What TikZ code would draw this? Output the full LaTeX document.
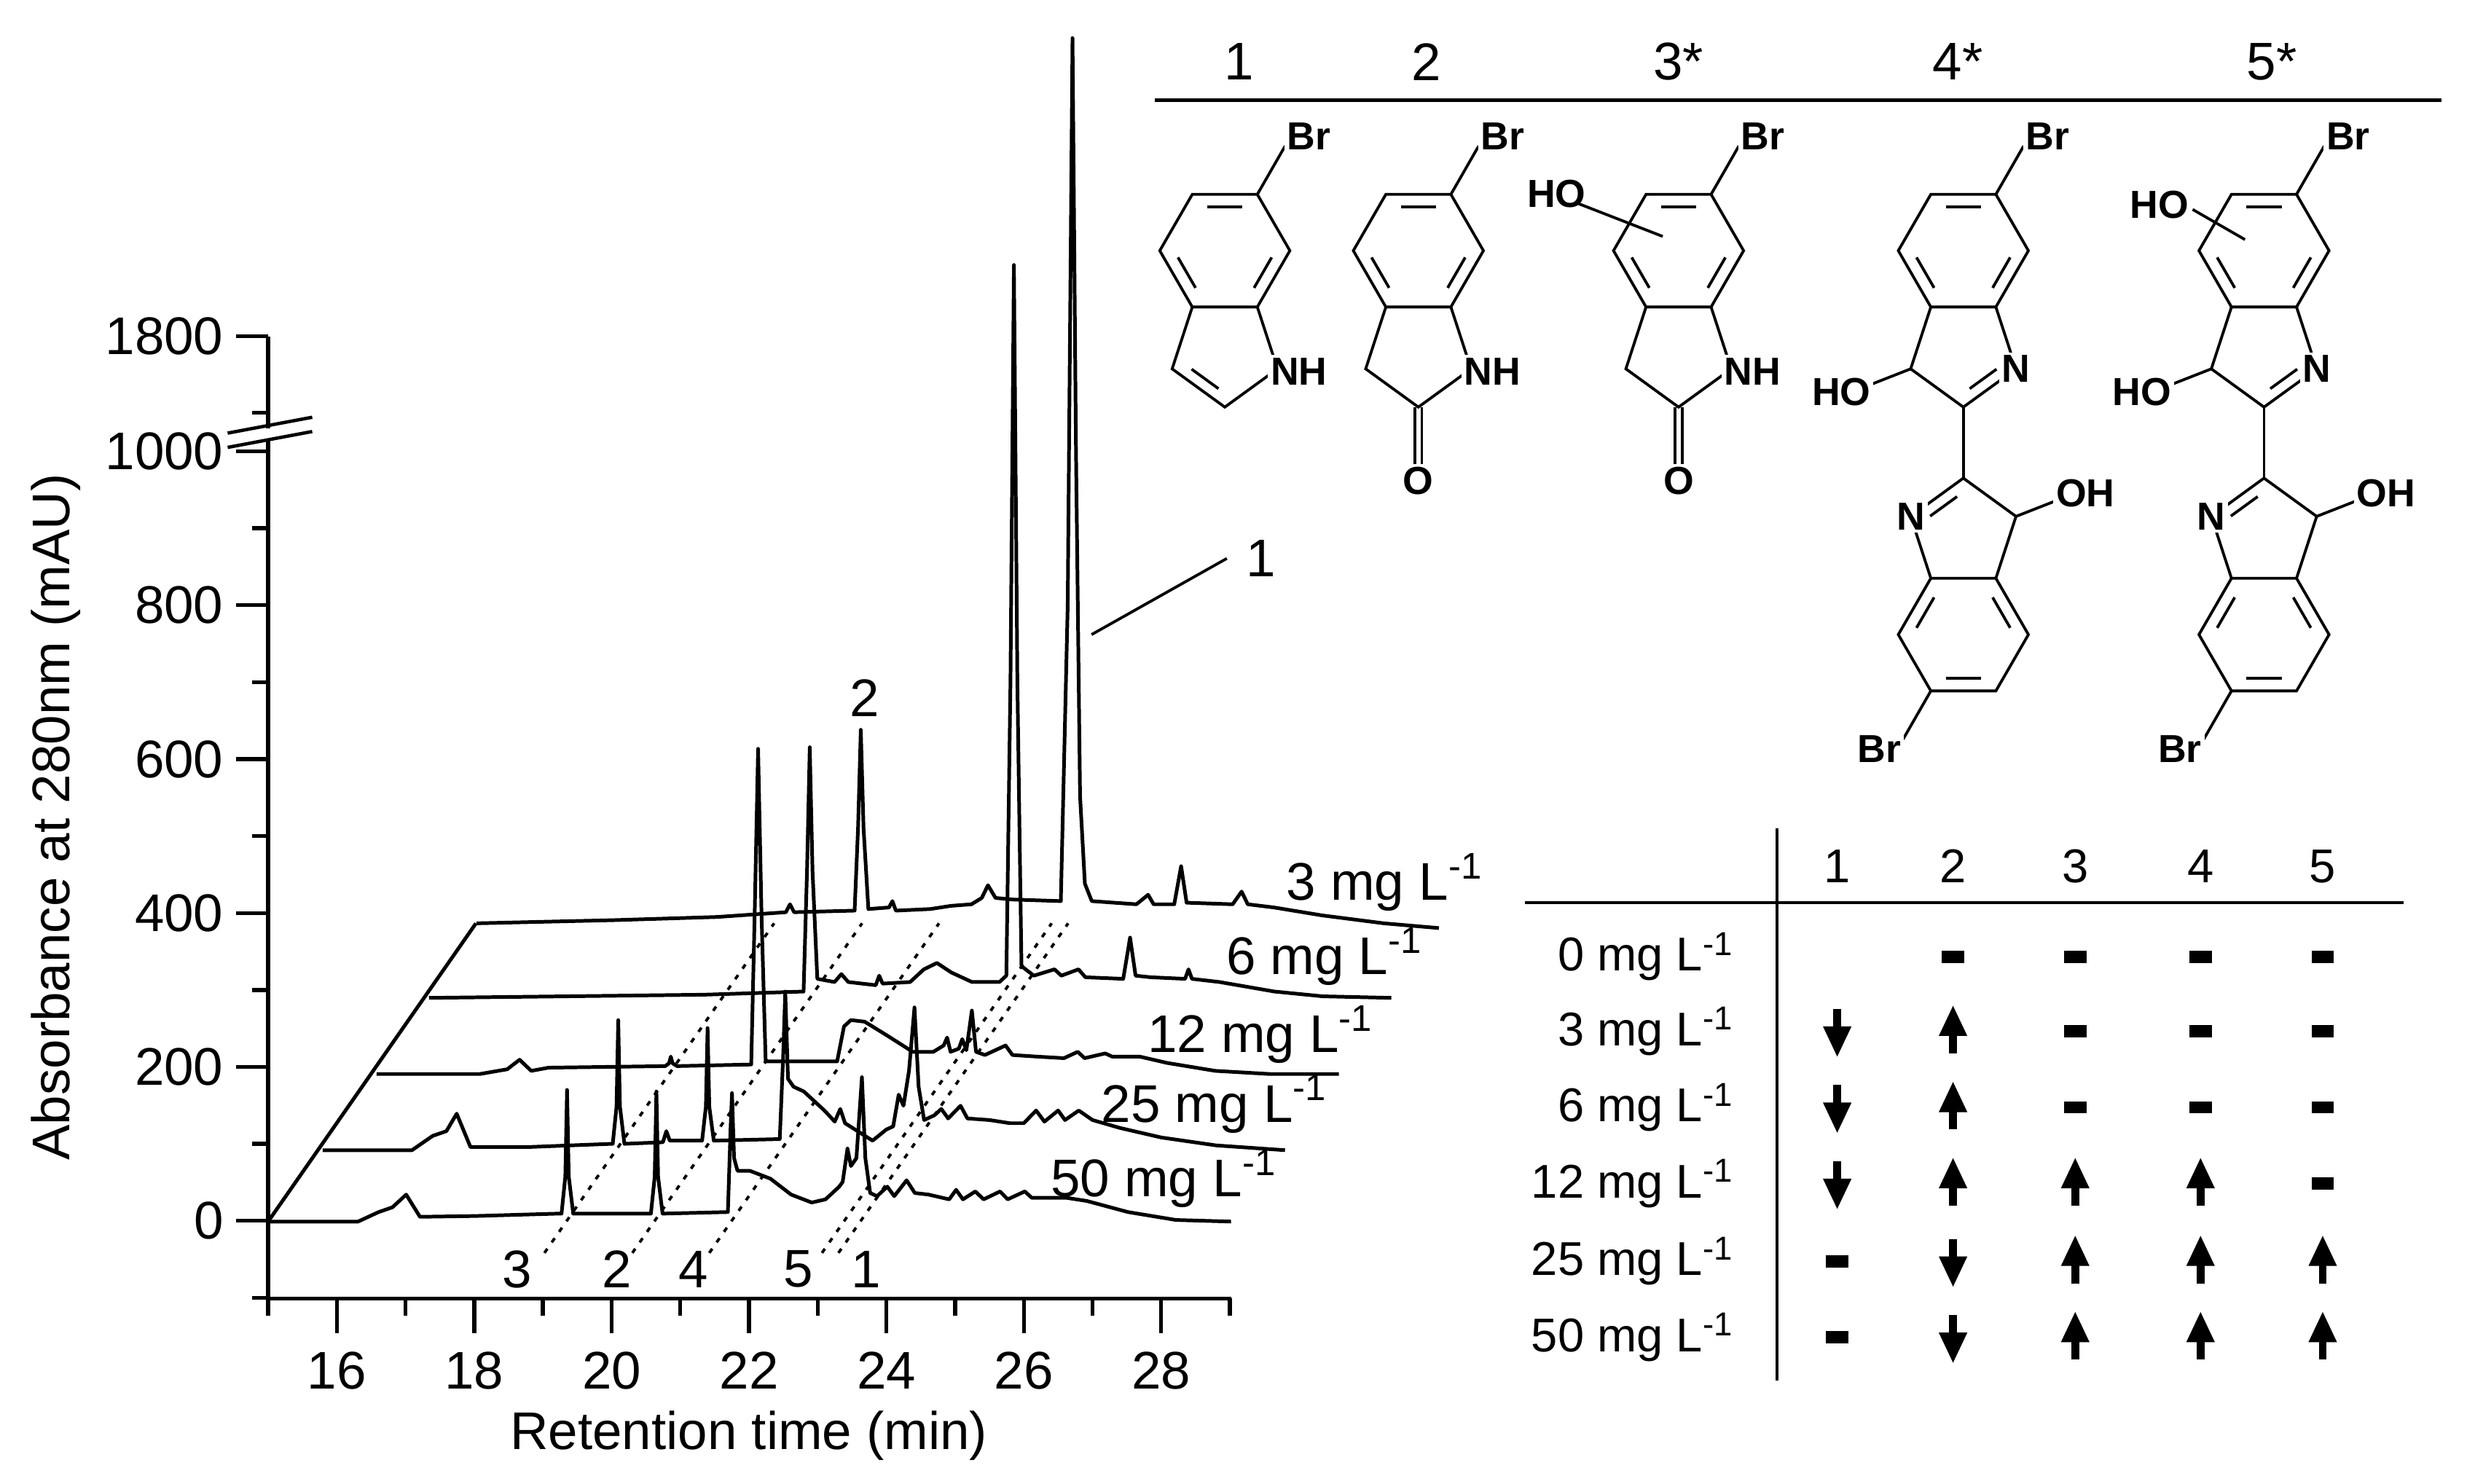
\documentclass[tikz,border=0pt]{standalone}
\usepackage{fontspec}
\setmainfont{Liberation Sans}
\usetikzlibrary{calc}
\newcommand\molcore{%
 \coordinate (O) at (0,0);
 \coordinate (A) at (20.5,-35.5); \coordinate (B) at (-20.5,-35.5); \coordinate (C) at (-41,0);
 \coordinate (D) at (-20.5,35.5); \coordinate (E) at (20.5,35.5); \coordinate (F) at (41,0);
 \coordinate (P1) at (33.2,74.5); \coordinate (P2) at (0,98.6); \coordinate (P3) at (-33.2,74.5); \coordinate (Q) at (0,63.7);
 \draw[bond] (A)--(B)--(C)--(D)--(E)--(F)--cycle;
 \draw[bond] (E)--(P1)--(P2)--(P3)--(D);
 \foreach \u/\v in {A/B,C/D,E/F} \draw[bond,shorten <=1.4pt,shorten >=1.4pt] ($(O)!.78!(\u)$)--($(O)!.78!(\v)$);
 \draw[bond] (A)--(38,-66);
}
\newcommand\pk[3]{--({#1-0.08},#2)--({#1-0.025},{#2+0.3*#3})--(#1,{#2+#3})--({#1+0.025},{#2+0.3*#3})--({#1+0.09},#2)}
\newcommand\uparr[2]{\draw[line width=1.4pt] (#1,#2+14)--(#1,#2-2); \fill (#1-9,#2+3)--(#1+9,#2+3)--(#1,#2-16)--cycle;}
\newcommand\dnarr[2]{\draw[line width=1.4pt] (#1,#2-14)--(#1,#2+2); \fill (#1-9,#2-3)--(#1+9,#2-3)--(#1,#2+16)--cycle;}
\newcommand\dsh[2]{\draw[line width=2.2pt] (#1-7,#2)--(#1+7,#2);}
\begin{document}
\begin{tikzpicture}[x=0.01cm,y=-0.01cm,
 trace/.style={line width=0.65pt,line join=round},
 axis/.style={line width=0.7pt},
 bond/.style={line width=0.5pt},
 lab/.style={font=\fontsize{9.5}{11}\selectfont},
 tlab/.style={font=\fontsize{8.5}{10}\selectfont},
 atom/.style={fill=white,inner sep=0.5pt,font=\fontsize{7}{8}\selectfont\bfseries},
 dots/.style={line width=0.5pt,dash pattern=on 0.9pt off 1.4pt},
 tr/.style={shift={(#1)},x=0.433cm,y=0.01cm}]
\useasboundingbox (0,0) rectangle (1560,935);
% ---- axes
\draw[axis] (169,820)--(169,278);
\draw[axis] (169,270)--(169,212);
\draw[line width=0.6pt] (143.5,273)--(196.8,263) (143.5,282)--(196.8,272);
\foreach \v/\t in {0/0,200/200,400/400,600/600,800/800,1000/1000}
  \draw[axis] (169,{769.5-0.485*\v})--(149,{769.5-0.485*\v}) node[lab,anchor=east,inner sep=2pt] {\t};
\foreach \v in {-100,100,300,500,700,900}
  \draw[axis] (169,{769.5-0.485*\v})--(159,{769.5-0.485*\v});
\draw[axis] (169,212)--(149,212) node[lab,anchor=east,inner sep=2pt] {1800};
\draw[axis] (169,260)--(159,260);
\draw[axis] (169,818.5)--(776,818.5);
\foreach \t in {15,17,...,29} \draw[axis] ({169+43.3*(\t-15)},818.5)--++(0,11);
\foreach \t in {16,18,...,28} \draw[axis] ({169+43.3*(\t-15)},818.5)--++(0,22) node[lab,anchor=north,inner sep=3pt] {\t};
\node[lab] (xt) at (472,905) {Retention time (min)};
\node[lab,rotate=90] (yt) at (35,515) {Absorbance at 280nm (mAU)};
% ---- traces
\draw[trace] (169,770)--(300,582);
\begin{scope}[tr={-349.5,582}]
\draw[trace] (15,0)--(17,2)--(18.5,4)--(19.5,7)--(19.56,12)--(19.62,7)--(20.5,8)--(20.55,60)--(20.59,122)--(20.63,60)--(20.7,9)--(21.0,10)--(21.05,14)--(21.1,8)--(21.6,9)--(21.9,11)--(22.2,12)--(22.35,16)--(22.44,24)--(22.55,16)--(22.8,15)--(23.5,14)--(23.6,200)--(23.67,558)--(23.72,300)--(23.78,80)--(23.85,25)--(23.95,14)--(24.6,12)--(24.77,18)--(24.85,12)--(25.15,12)--(25.25,36)--(25.33,13)--(26.0,12)--(26.13,20)--(26.22,12)--(26.6,10)--(27.3,5)--(28.2,0)--(29,-3);
\end{scope}
\begin{scope}[tr={-379.5,629}]
\draw[trace] (15,0)--(19,2)--(20.45,4)--(20.5,80)--(20.54,158)--(20.58,80)--(20.65,12)--(20.9,10)--(21.0,15)--(21.1,10)--(21.5,8)--(21.55,14)--(21.6,9)--(22.0,10)--(22.2,18)--(22.39,22)--(22.6,16)--(22.9,10)--(23.3,10)--(23.4,14)--(23.46,200)--(23.51,462)--(23.56,200)--(23.62,20)--(23.8,14)--(24.1,18)--(24.2,14)--(24.45,18)--(24.55,13)--(25.1,12)--(25.2,38)--(25.28,14)--(25.5,13)--(26.0,12)--(26.05,18)--(26.1,12)--(26.5,10)--(27.3,4)--(28,1)--(29,0);
\end{scope}
\begin{scope}[tr={-412.5,677}]
\draw[trace] (15,0)--(16.5,0)--(16.9,3)--(17.08,9)--(17.25,2)--(17.5,4)--(19.2,5)\pk{19.28}{5}{6}--(20.45,6)--(20.5,100)--(20.55,205)--(20.6,100)--(20.66,8)--(21.7,8)--(21.8,30)--(21.9,34)--(22.1,33)--(22.4,25)--(22.8,14)--(23.1,14)--(23.25,18)--(23.3,23)--(23.35,14)--(23.47,16)--(23.52,22)--(23.58,15)--(23.66,40)--(23.72,14)--(23.85,12)--(24.15,18)--(24.25,12)--(24.6,11)--(25.0,10)--(25.2,14)--(25.3,10)--(25.6,13)--(25.7,11)--(26.1,11)--(26.5,7)--(27.2,2)--(28,0)--(29,0);
\end{scope}
\begin{scope}[tr={-446.5,725}]
\draw[trace] (15,0)--(16.3,0)--(16.6,9)--(16.8,12)--(16.95,23)--(17.15,2)--(18,2)--(19.2,4)\pk{19.30}{4}{78}--(19.95,5)--(20.0,12)--(20.05,6)\pk{20.6}{6}{71}--(21.65,7)--(21.70,60)--(21.73,100)--(21.77,45)--(21.85,40)--(22.0,37)--(22.3,25)--(22.45,18)--(22.53,26)--(22.6,17)--(23.0,6)--(23.2,13)--(23.3,15)--(23.38,35)--(23.45,28)--(23.53,50)--(23.61,90)--(23.67,40)--(23.75,19)--(23.9,22)--(24.0,26)--(24.1,20)--(24.28,28)--(24.38,20)--(24.7,19)--(25.0,17)--(25.2,17)--(25.38,25)--(25.5,18)--(25.7,25)--(25.8,19)--(26.0,25)--(26.2,19)--(26.6,14)--(27.2,8)--(28,3)--(29,0);
\end{scope}
\begin{scope}[tr={-480.5,770}]
\draw[trace] (15,0)--(16.3,0)--(16.6,6)--(16.8,9)--(17.0,17)--(17.2,3)--(18,3.5)--(19.2,5)\pk{19.34}{5}{78}--(20.5,5)\pk{20.64}{5}{77}--(21.68,6)--(21.72,60)--(21.74,81)--(21.77,40)--(21.82,32)--(22.0,32)--(22.3,27)--(22.6,17)--(22.9,12)--(23.1,14)--(23.3,22)--(23.35,25)--(23.42,46)--(23.47,35)--(23.55,40)--(23.63,91)--(23.68,40)--(23.75,18)--(23.85,16)--(24.0,22)--(24.1,16)--(24.28,26)--(24.4,18)--(24.6,17)--(24.9,14)--(25.0,20)--(25.1,14)--(25.28,19)--(25.4,14)--(25.64,19)--(25.75,14)--(26.0,19)--(26.1,15)--(26.6,15)--(26.9,13)--(27.5,6)--(28.2,1)--(29,0);
\end{scope}
\foreach \t/\l/\lx in {19.34/3/326,20.62/2/389,21.74/4/437,23.38/5/503,23.62/1/546}{
  \draw[dots] ({169+43.3*(\t-15)-0.105*131},{770+0.105*188})--({169+43.3*(\t-15)+131},{770-188});
  \node[lab] at (\lx,800) {\l};
}
\node[lab] (pk2) at (545,440) {2};
\node[lab] (pk1) at (795,352) {1};
\coordinate (pk1s) at (688,400);
\draw[line width=0.5pt] (pk1s)--(pk1.west);
\node[lab,anchor=east] (l3) at (948,556) {3 mg L\textsuperscript{-1}};
\node[lab,anchor=east] (l6) at (910,603) {6 mg L\textsuperscript{-1}};
\node[lab,anchor=east] (l12) at (879,652) {12 mg L\textsuperscript{-1}};
\node[lab,anchor=east] (l25) at (850,696) {25 mg L\textsuperscript{-1}};
\node[lab,anchor=east] (l50) at (818,743) {50 mg L\textsuperscript{-1}};
% ---- structures header
\draw[line width=0.7pt] (728,63)--(1539,63);
\foreach \x/\t in {781/1,899/2,1058/3*,1234/4*,1432/5*} \node[lab] at (\x,39) {\t};
% mol 1 indole
\begin{scope}[shift={(772,158)}]
 \molcore
 \draw[bond,shorten <=1.4pt,shorten >=1.4pt] ($(Q)!.75!(P2)$)--($(Q)!.75!(P3)$);
 \node[atom,anchor=west] at (26.5,76) {NH};
 \node[atom] at (53,-72) {Br};
\end{scope}
% mol 2 oxindole
\begin{scope}[shift={(894,158)}]
 \molcore
 \draw[bond] (-2.2,98.6)--(-2.2,137) (2.2,98.6)--(2.2,137);
 \node[atom,anchor=west] at (26.5,76) {NH};
 \node[atom] at (0,145) {O};
 \node[atom] at (53,-72) {Br};
\end{scope}
% mol 3
\begin{scope}[shift={(1058,158)}]
 \molcore
 \draw[bond] (-2.2,98.6)--(-2.2,137) (2.2,98.6)--(2.2,137);
 \draw[bond] (-64,-30)--(-10,-9);
 \node[atom,anchor=west] at (26.5,76) {NH};
 \node[atom] at (0,145) {O};
 \node[atom] at (53,-72) {Br};
 \node[atom,fill=none] at (-77,-36) {HO};
\end{scope}
% mol 4 and 5
\foreach \cx/\ho in {1237.5/0,1427/1}{
\begin{scope}[shift={(\cx,158)}]
 \molcore
 \draw[bond,shorten <=1.4pt,shorten >=1.4pt] ($(Q)!.75!(P2)$)--($(Q)!.75!(P1)$);
 \draw[bond] (P3)--(-60,85);
 \draw[bond] (P2)--(0,143.4);
 \node[atom] at (P1) {N};
 \node[atom,anchor=east] at (-56,89) {HO};
 \node[atom] at (53,-72) {Br};
 \ifnum\ho=1
  \draw[bond] (-45,-26)--(-12,-7);
  \node[atom,fill=none] at (-66,-29) {HO};
 \fi
 \begin{scope}[rotate around={180:(0,121)}]
  \molcore
  \draw[bond,shorten <=1.4pt,shorten >=1.4pt] ($(Q)!.75!(P2)$)--($(Q)!.75!(P1)$);
  \draw[bond] (P3)--(-60,85);
  \node[atom] at (P1) {N};
 \end{scope}
 \node[atom,anchor=west] at (56,153) {OH};
 \node[atom] at (-53,314) {Br};
\end{scope}}
% ---- table
\draw[line width=0.6pt] (1120,522)--(1120,870);
\draw[line width=0.6pt] (961,569)--(1515,569);
\foreach \x/\t in {1158/1,1231/2,1308/3,1387/4,1464/5} \node[tlab] at (\x,546) {\t};
\foreach \y/\t in {603/0,650/3,698/6,746/12,795/25,843/50}
  \node[tlab,anchor=east] at (1106,\y) {\t\ mg L\textsuperscript{-1}};
\dsh{1231}{603}\dsh{1308}{603}\dsh{1387}{603}\dsh{1464}{603}
\dnarr{1158}{650}\uparr{1231}{650}\dsh{1308}{650}\dsh{1387}{650}\dsh{1464}{650}
\dnarr{1158}{698}\uparr{1231}{698}\dsh{1308}{698}\dsh{1387}{698}\dsh{1464}{698}
\dnarr{1158}{746}\uparr{1231}{746}\uparr{1308}{746}\uparr{1387}{746}\dsh{1464}{746}
\dsh{1158}{795}\dnarr{1231}{795}\uparr{1308}{795}\uparr{1387}{795}\uparr{1464}{795}
\dsh{1158}{843}\dnarr{1231}{843}\uparr{1308}{843}\uparr{1387}{843}\uparr{1464}{843}
\end{tikzpicture}
\end{document}
